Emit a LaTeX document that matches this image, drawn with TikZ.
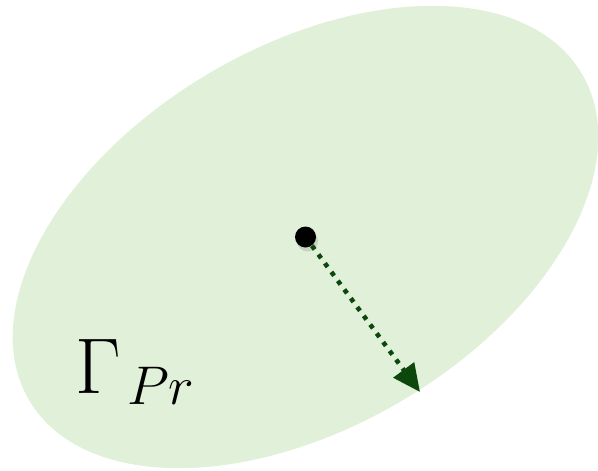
\RequirePackage{fix-cm}
\documentclass[tikz,border=0pt]{standalone}
\usepackage{amsmath, amssymb}
\usepackage{tikz}
\usepackage{xcolor}
\usetikzlibrary{arrows.meta, positioning, shadows}
\definecolor{mylightgreen}{RGB}{225, 240, 216}
\definecolor{mydarkgreen}{RGB}{12, 72, 12}

\begin{document}
\begin{tikzpicture}[
          region/.style={fill=mylightgreen,draw=none},
          point/.style={circle,fill=black,minimum size=0.42cm,inner sep=0pt,
                        drop shadow={shadow xshift=0.04cm,shadow yshift=-0.08cm,opacity=0.25}},
          flow/.style={mydarkgreen,line width=2.6pt,dash pattern=on 2.6pt off 3.6pt,
                       -{Triangle[length=0.55cm,width=0.5cm]}}]
        \useasboundingbox (0,0) rectangle (11.96,9.4);
        \fill[region,rotate around={30.6:(6.11,4.66)}] (6.11,4.66) ellipse [x radius=6.42cm,y radius=3.8cm];
        \node[point](x) at (6.11,4.66){};
        \coordinate(tip) at (8.40,1.56);
        \draw[flow](x)--(tip);
        \node[anchor=base west,inner sep=0pt,font=\fontsize{45}{50}\selectfont](gamma) at (1.50,1.54){$\Gamma_{\mkern2mu\text{\fontsize{31}{34}\selectfont$Pr$}}$};
      \end{tikzpicture}
\end{document}
